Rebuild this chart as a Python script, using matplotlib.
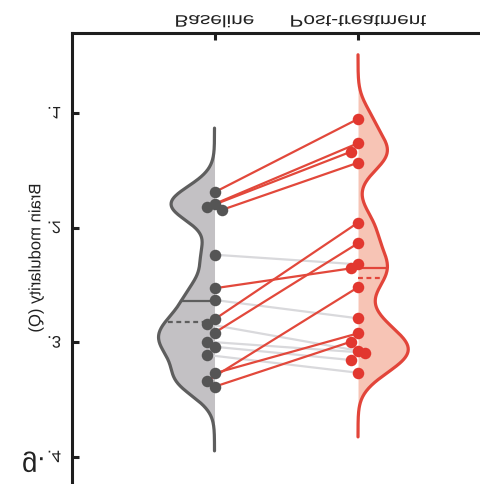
import numpy as np
import matplotlib
matplotlib.use("Agg")
import matplotlib.pyplot as plt
from matplotlib.patheffects import AbstractPathEffect
from matplotlib.transforms import Affine2D

plt.rcParams["font.family"] = ["Liberation Sans", "DejaVu Sans"]

GROUPS = ["Baseline", "Post-treatment"]
Y_TICKS = [0.1, 0.2, 0.3, 0.4]
Y_TICK_LABELS = [".1", ".2", ".3", ".4"]

# paired modularity values, one entry per subject
baseline_q = [0.1692, 0.1794, 0.1847, 0.1823, 0.2237, 0.2530, 0.2632, 0.2801,
              0.2842, 0.2918, 0.2996, 0.3040, 0.3112, 0.3272, 0.3337, 0.3389]
post_q = [0.1052, 0.1264, 0.1434, 0.1338, 0.2321, 0.2356, 0.2792, 0.1957,
          0.3075, 0.2137, 0.3092, 0.3156, 0.3267, 0.2923, 0.2521, 0.2996]

BW = 0.014                  # kde bandwidth
HALF_WIDTHS = (0.39, 0.35)  # widest violin half per group, x units

GREY_DOT, GREY_EDGE, GREY_FILL = "#555555", "#5e5e5e", "#c3c1c4"
RED_DOT, RED_EDGE, RED_FILL = "#e2372f", "#e2453a", "#f7c4b5"
RED_LINK, GREY_LINK = "#e2483b", "#d9d9dc"


class Mirror(AbstractPathEffect):
    """Draw text glyphs flipped top-to-bottom (and optionally stretched
    along the line of text) while keeping the text box in place."""

    def __init__(self, stretch=1.0, mid=36.0):
        super().__init__()
        self.stretch = stretch
        self.mid = mid  # glyph units, font size == 100

    def draw_path(self, renderer, gc, tpath, affine, rgbFace=None):
        ext = tpath.get_extents()
        cx = 0.5 * (ext.x0 + ext.x1)
        flip = (Affine2D().translate(-cx, -self.mid)
                .scale(self.stretch, -1).translate(cx, self.mid))
        renderer.draw_path(gc, tpath, flip + affine, rgbFace)


def kde(values, grid):
    v = np.asarray(values)[:, None]
    return np.exp(-0.5 * ((grid[None, :] - v) / BW) ** 2).sum(axis=0)


def swarm(values, dy, dx):
    values = np.asarray(values)
    offs = np.zeros(len(values))
    placed = []
    for i in np.argsort(values):
        for k in (0, -1, 1, -2, 2):
            x = k * dx
            if all(abs(values[i] - v) >= dy or abs(x - o) >= 0.9 * dx
                   for v, o in placed):
                break
        offs[i] = x
        placed.append((values[i], x))
    return offs


fig = plt.figure(figsize=(4.8, 4.84), dpi=100)
ax = fig.add_axes([72 / 480, 0, 408 / 480, 451 / 484])
ax.set_xlim(0.007, 2.85)
ax.set_ylim(0.4238, 0.0302)

# half violins, mean (solid) and median (dashed) markers
for pos, side, vals, half, face, edge in [
        (1, -1, baseline_q, HALF_WIDTHS[0], GREY_FILL, GREY_EDGE),
        (2, 1, post_q, HALF_WIDTHS[1], RED_FILL, RED_EDGE)]:
    g = np.linspace(min(vals) - 4 * BW, max(vals) + 4 * BW, 400)
    d = kde(vals, g)
    d = d * half / d.max()
    xs = pos + side * d
    ax.fill_betweenx(g, pos, xs, color=face, lw=0, zorder=1)
    ax.plot(xs, g, color=edge, lw=2.3, zorder=2, solid_capstyle="round")
    mean, med = np.mean(vals), np.median(vals)
    ax.plot([pos, pos + side * np.interp(mean, g, d)], [mean, mean],
            color=edge, lw=1.6, zorder=2)
    ax.plot([pos, pos + side * np.interp(med, g, d)], [med, med],
            color=edge, lw=1.6, ls=(0, (2.2, 1.6)), zorder=2)

# paired lines and points
dot_dy = 0.0096
x_base = 1 + swarm(baseline_q, dot_dy, 0.049)
x_post = 2 + swarm(post_q, dot_dy, 0.049)
for xb, xp, b, p in zip(x_base, x_post, baseline_q, post_q):
    drop = p < b
    ax.plot([xb, xp], [b, p], color=RED_LINK if drop else GREY_LINK,
            lw=1.6, zorder=4 if drop else 3, solid_capstyle="round")
ax.plot(x_base, baseline_q, "o", ms=8.3, color=GREY_DOT, mec="none", zorder=5)
ax.plot(x_post, post_q, "o", ms=8.3, color=RED_DOT, mec="none", zorder=5)

# axes styling
for side in ("right", "bottom"):
    ax.spines[side].set_visible(False)
for side in ("left", "top"):
    ax.spines[side].set_linewidth(2.2)
    ax.spines[side].set_color("#1e1e1e")

ax.xaxis.tick_top()
ax.set_xticks([1, 2], GROUPS)
ax.set_yticks(Y_TICKS, Y_TICK_LABELS)
ax.tick_params(axis="both", direction="in", length=5, width=2.2,
               color="#1e1e1e", labelsize=12, labelcolor="#222222")
ax.tick_params(axis="x", pad=2)
ax.tick_params(axis="y", pad=8)
for lbl in ax.get_xticklabels():
    lbl.set_path_effects([Mirror(stretch=1.25)])
for lbl in ax.get_yticklabels():
    lbl.set_path_effects([Mirror()])

ylab = ax.set_ylabel("Brain modularity (Q)", rotation=270, fontsize=12,
                     color="#222222", ha="center", va="center")
ylab.set_path_effects([Mirror()])
ax.yaxis.set_label_coords(-0.096, 0.5)

panel = fig.text(22 / 480, 0.014, "g.", fontsize=20, color="#222222",
                 ha="left", va="baseline")
panel.set_path_effects([Mirror()])

fig.savefig("out.png", dpi=100)
